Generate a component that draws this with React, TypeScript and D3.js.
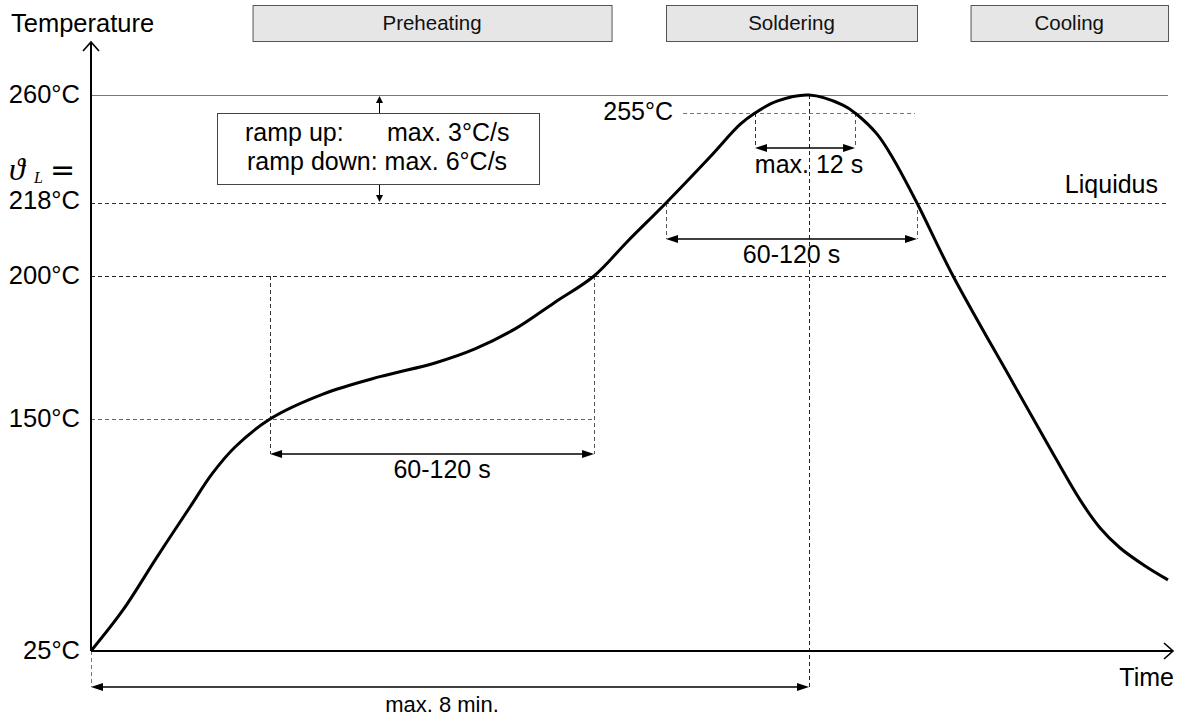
import React from 'react';
import * as d3 from 'd3';

// ---- data (time in s, temperature in °C) ----
const timeS = [0, 21.4, 44.1, 66.2, 80.9, 96.3, 119.7, 155.1, 193.2, 230, 256.7, 283.5, 309.5, 336.3, 358.3, 384.4, 413.8, 433.9, 443.9, 458.6, 480, 502.7, 510.8, 525.5, 536.2, 552.2, 576.3, 616.4, 639.1, 661.2, 674.6, 688, 704.7, 720];
const tempC = [25, 47.1, 75.6, 102.6, 120.4, 134.9, 150, 158.7, 164.8, 169.6, 174.5, 181.5, 190.6, 200, 208.4, 218, 236.9, 250.3, 255, 258.3, 260, 257.2, 255, 246.3, 236.3, 218, 200, 162.6, 137.1, 106.4, 91.3, 80.5, 70.8, 63.3];

const tickTemps = [260, 218, 200, 150, 25];
const tickLabels = ['260°C', '218°C', '200°C', '150°C', '25°C'];

const phaseNames = ['Preheating', 'Soldering', 'Cooling'];
const phaseStart = [108, 384.4, 588];
const phaseEnd = [348, 552.2, 720];

// key crossings
const t150 = 119.7;
const t200 = 336.3;
const tLiqUp = 384.4;
const tLiqDown = 552.2;
const t255Up = 443.9;
const t255Down = 510.8;
const tPeak = 480;
const t255LineStart = 395.8;
const t255LineEnd = 550.9;

const FONT = '"Liberation Sans", Arial, sans-serif';

const x = d3.scaleLinear().domain([0, 720]).range([91, 1168]);
const y = d3.scaleLinear().domain([25, 150, 200, 218, 255, 260]).range([651, 419, 276, 203, 113, 95]);

function Head({ px, py, dir, len = 12, hw = 4 }: { px: number; py: number; dir: 'l' | 'r' | 'u' | 'd'; len?: number; hw?: number }) {
  let d = '';
  if (dir === 'l') d = `M${px},${py}L${px + len},${py - hw}L${px + len},${py + hw}Z`;
  if (dir === 'r') d = `M${px},${py}L${px - len},${py - hw}L${px - len},${py + hw}Z`;
  if (dir === 'u') d = `M${px},${py}L${px - hw},${py + len}L${px + hw},${py + len}Z`;
  if (dir === 'd') d = `M${px},${py}L${px - hw},${py - len}L${px + hw},${py - len}Z`;
  return <path d={d} fill="#000" />;
}

function DimArrow({ x1, x2, yy }: { x1: number; x2: number; yy: number }) {
  return (
    <g>
      <line x1={x1 + 6} x2={x2 - 6} y1={yy} y2={yy} stroke="#000" strokeWidth={1.3} />
      <Head px={x1} py={yy} dir="l" />
      <Head px={x2} py={yy} dir="r" />
    </g>
  );
}

function DLine({ x1, y1, x2, y2, c = '#333' }: { x1: number; y1: number; x2: number; y2: number; c?: string }) {
  return <line x1={x1} y1={y1} x2={x2} y2={y2} stroke={c} strokeWidth={1} strokeDasharray="4,3" shapeRendering="crispEdges" />;
}

export default function App() {
  const pts = timeS.map((t, i) => [t, tempC[i]] as [number, number]);
  const line = d3.line<[number, number]>().x((d) => x(d[0])).y((d) => y(d[1])).curve(d3.curveCatmullRom.alpha(0.5));
  const x0 = x(0);
  const xEnd = x(720);
  const y25 = y(25);
  const yPreArrow = y(150) + 35;
  const yLiqArrow = y(218) + 36;
  const y255Arrow = y(255) + 35;
  const yBottomArrow = y25 + 36;
  const rampX = 379;

  return (
    <div style={{ position: 'absolute', left: 0, top: 0 }}>
      <svg width={1181} height={719} style={{ display: 'block', background: '#fff' }} fontFamily={FONT}>
        {/* phase boxes */}
        {phaseNames.map((n, i) => (
          <g key={n}>
            <rect x={x(phaseStart[i]) + 0.5} y={5.5} width={x(phaseEnd[i]) - x(phaseStart[i])} height={36} fill="#e6e6e6" stroke="#555" strokeWidth={1} />
            <text x={(x(phaseStart[i]) + x(phaseEnd[i])) / 2} y={30} fontSize={20.5} textAnchor="middle" fill="#111">{n}</text>
          </g>
        ))}

        {/* reference lines */}
        <line x1={x0} x2={xEnd} y1={y(260) + 0.5} y2={y(260) + 0.5} stroke="#777" strokeWidth={1.2} />
        <DLine x1={x0} x2={xEnd} y1={y(218) + 0.5} y2={y(218) + 0.5} c="#333" />
        <DLine x1={x0} x2={xEnd} y1={y(200) + 0.5} y2={y(200) + 0.5} c="#222" />
        <DLine x1={x0} x2={x(t200)} y1={y(150) + 0.5} y2={y(150) + 0.5} c="#666" />
        <DLine x1={x(t255LineStart)} x2={x(t255LineEnd)} y1={y(255) + 0.5} y2={y(255) + 0.5} c="#777" />

        {/* vertical guides */}
        <DLine x1={x(t150) + 0.5} x2={x(t150) + 0.5} y1={y(200)} y2={yPreArrow} />
        <DLine x1={x(t200) + 0.5} x2={x(t200) + 0.5} y1={y(200)} y2={yPreArrow} c="#555" />
        <DLine x1={x(tLiqUp) + 0.5} x2={x(tLiqUp) + 0.5} y1={y(218)} y2={yLiqArrow} c="#555" />
        <DLine x1={x(tLiqDown) + 0.5} x2={x(tLiqDown) + 0.5} y1={y(218)} y2={yLiqArrow} c="#555" />
        <DLine x1={x(t255Up) + 0.5} x2={x(t255Up) + 0.5} y1={y(255)} y2={y255Arrow} />
        <DLine x1={x(t255Down) + 0.5} x2={x(t255Down) + 0.5} y1={y(255)} y2={y255Arrow} c="#555" />
        <DLine x1={x(tPeak) + 0.5} x2={x(tPeak) + 0.5} y1={y(260)} y2={yBottomArrow} c="#222" />
        <DLine x1={x0 + 0.5} x2={x0 + 0.5} y1={y25} y2={yBottomArrow} c="#777" />

        {/* dimension arrows */}
        <DimArrow x1={x(t150)} x2={x(t200)} yy={yPreArrow} />
        <text x={(x(t150) + x(t200)) / 2 + 10} y={yPreArrow + 24} fontSize={25} textAnchor="middle">60-120 s</text>
        <DimArrow x1={x(tLiqUp)} x2={x(tLiqDown)} yy={yLiqArrow} />
        <text x={(x(tLiqUp) + x(tLiqDown)) / 2} y={yLiqArrow + 24} fontSize={25} textAnchor="middle">60-120 s</text>
        <DimArrow x1={x(t255Up)} x2={x(t255Down)} yy={y255Arrow} />
        <text x={x(tPeak)} y={y255Arrow + 25} fontSize={25} textAnchor="middle">max. 12 s</text>
        <DimArrow x1={x0} x2={x(tPeak)} yy={yBottomArrow} />
        <text x={442} y={yBottomArrow + 25} fontSize={22} textAnchor="middle">max. 8 min.</text>

        {/* ramp box */}
        <line x1={rampX + 0.5} x2={rampX + 0.5} y1={y(260) + 6} y2={113} stroke="#000" strokeWidth={1} />
        <Head px={rampX + 0.5} py={y(260) + 1} dir="u" len={7} hw={3.5} />
        <line x1={rampX + 0.5} x2={rampX + 0.5} y1={184} y2={y(218) - 6} stroke="#000" strokeWidth={1} />
        <Head px={rampX + 0.5} py={y(218) - 1} dir="d" len={7} hw={3.5} />
        <rect x={217.5} y={113.5} width={322} height={71} fill="#fff" stroke="#444" strokeWidth={1} />
        <text x={245} y={141} fontSize={25}>ramp up:</text>
        <text x={387} y={141} fontSize={25}>max. 3°C/s</text>
        <text x={247} y={170} fontSize={25}>ramp down: max. 6°C/s</text>

        {/* labels */}
        <text x={11} y={32} fontSize={25.5}>Temperature</text>
        {tickTemps.map((t, i) => (
          <text key={t} x={80} y={y(t) + (t === 218 ? 6 : 8)} fontSize={25.5} textAnchor="end">{tickLabels[i]}</text>
        ))}
        <text x={673} y={y(255) + 7} fontSize={25} textAnchor="end">255°C</text>
        <text x={1158} y={193} fontSize={25} textAnchor="end">Liquidus</text>
        <text x={1174} y={686} fontSize={25} textAnchor="end">Time</text>
        <text x={9} y={180}>
          <tspan x={9} fontSize={32} fontStyle="italic" fontFamily='"Liberation Serif", "DejaVu Serif", serif'>ϑ</tspan>
          <tspan x={34} dy={3} fontSize={16} fontStyle="italic" fontFamily='"Liberation Serif", serif'>L</tspan>
          <tspan x={50} dy={-3} fontSize={30} fontFamily='"DejaVu Sans", sans-serif'>=</tspan>
        </text>

        {/* axes */}
        <line x1={x0} x2={x0} y1={y25} y2={43} stroke="#000" strokeWidth={2} />
        <path d={`M${x0 - 8},${51}L${x0},${42}L${x0 + 8},${51}`} fill="none" stroke="#000" strokeWidth={1.6} />
        <line x1={x0} x2={1172} y1={y25} y2={y25} stroke="#000" strokeWidth={2} />
        <path d={`M${1164},${y25 - 8}L${1173},${y25}L${1164},${y25 + 8}`} fill="none" stroke="#000" strokeWidth={1.6} />

        {/* curve */}
        <path d={line(pts) || ''} fill="none" stroke="#000" strokeWidth={3} strokeLinejoin="round" />
      </svg>
    </div>
  );
}
